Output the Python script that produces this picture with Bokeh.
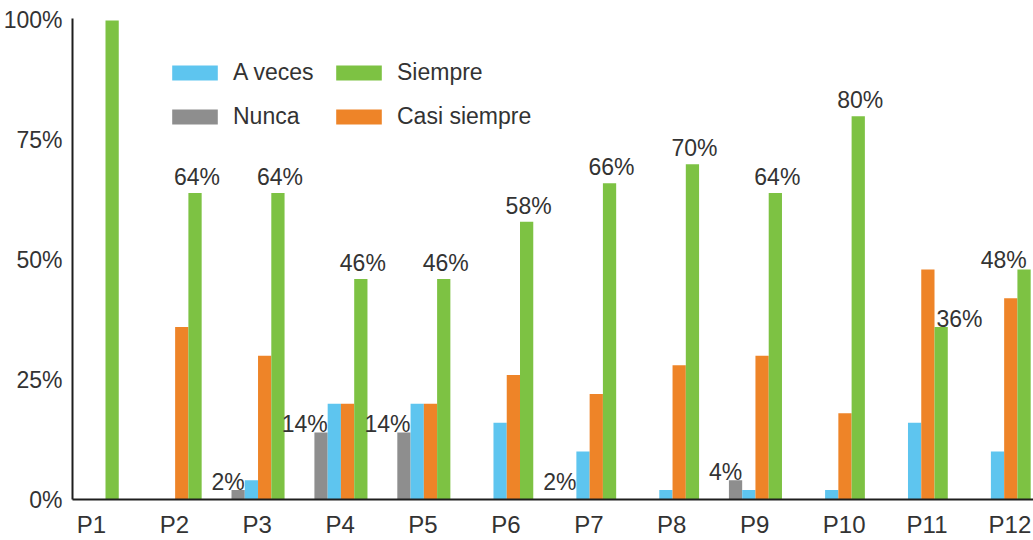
from bokeh.plotting import figure
from bokeh.models import (Range1d, FixedTicker, PrintfTickFormatter, Legend,
                          LegendItem, ColumnDataSource)
from bokeh.core.properties import value
from bokeh.embed import file_html
from bokeh.resources import INLINE

# ---------------- data ----------------
preguntas = ["P1", "P2", "P3", "P4", "P5", "P6", "P7", "P8", "P9", "P10", "P11", "P12"]
nunca = [0, 0, 2, 14, 14, 0, 0, 0, 4, 0, 0, 0]
a_veces = [0, 0, 4, 20, 20, 16, 10, 2, 2, 2, 16, 10]
casi_siempre = [0, 36, 30, 20, 20, 26, 22, 28, 30, 18, 48, 42]
siempre = [100, 64, 64, 46, 46, 58, 66, 70, 64, 80, 36, 48]
etiquetas_nunca = ["", "", "2%", "14%", "14%", "", "2%", "", "4%", "", "", ""]
valor_etiqueta_nunca = [0, 0, 2, 14, 14, 0, 2, 0, 4, 0, 0, 0]
etiquetas_siempre = ["", "64%", "64%", "46%", "46%", "58%", "66%", "70%", "64%", "80%", "36%", "48%"]
y_ticks = [0, 25, 50, 75, 100]

# ---------------- style ----------------
C_GRAY = "#8e8e8e"
C_BLUE = "#5ec5ef"
C_ORANGE = "#ee8428"
C_GREEN = "#7dc243"
TXT = "#333333"
FONT = "Liberation Sans"

# positions: each question occupies 100 x-units; bars are 16 units wide
U = 100
BW = 16
idx = [U * (i + 1) for i in range(len(preguntas))]
X_START, X_END = 60.2, 1219.4

p = figure(width=1033, height=540, output_backend="svg", toolbar_location=None,
           x_range=Range1d(X_START, X_END), y_range=Range1d(0, 100.4),
           min_border_left=72, min_border_right=0, min_border_top=18,
           min_border_bottom=32, outline_line_color=None)
p.xgrid.visible = False
p.ygrid.visible = False

def bars(vals, off, color):
    src = ColumnDataSource(dict(x=[v + off for v in idx], top=vals))
    return p.vbar(x="x", top="top", width=BW, source=src, fill_color=color,
                  line_color=None)

r_gray = bars(nunca, -40, C_GRAY)
r_blue = bars(a_veces, -24, C_BLUE)
r_orange = bars(casi_siempre, -8, C_ORANGE)
r_green = bars(siempre, 8, C_GREEN)

common = dict(text_font=value(FONT), text_font_size="23px", text_color=TXT,
              text_baseline="alphabetic")

# labels for "Nunca"
ln = [i for i in range(len(preguntas)) if etiquetas_nunca[i]]
p.text(x=[idx[i] - 32 for i in ln], y=[valor_etiqueta_nunca[i] for i in ln],
       text=[etiquetas_nunca[i] for i in ln], text_align="right", y_offset=-8,
       **common)

# labels for "Siempre"
last = len(preguntas) - 1
lab = [i for i in range(len(preguntas)) if etiquetas_siempre[i]]
above = [i for i in lab if siempre[i] >= casi_siempre[i] and i != last]
beside = [i for i in lab if siempre[i] < casi_siempre[i]]
edge = [i for i in lab if i == last and i not in beside]
p.text(x=[idx[i] + 8 for i in above], y=[siempre[i] for i in above],
       text=[etiquetas_siempre[i] for i in above], text_align="center",
       x_offset=2, y_offset=-16, **common)
p.text(x=[idx[i] for i in beside], y=[siempre[i] for i in beside],
       text=[etiquetas_siempre[i] for i in beside], text_align="left",
       x_offset=2, y_offset=-8, **common)
p.text(x=[idx[i] + 16 for i in edge], y=[siempre[i] for i in edge],
       text=[etiquetas_siempre[i] for i in edge], text_align="right",
       x_offset=-4, y_offset=-10, **common)

# axes
xt = [idx[i] - (17 if len(preguntas[i]) == 2 else 9) for i in range(len(preguntas))]
p.xaxis.ticker = FixedTicker(ticks=xt)
p.xaxis.major_label_overrides = {xt[i]: preguntas[i] for i in range(len(preguntas))}
p.yaxis.ticker = FixedTicker(ticks=y_ticks)
p.yaxis.formatter = PrintfTickFormatter(format="%d%%")
for ax in (p.xaxis, p.yaxis):
    ax.major_tick_line_color = None
    ax.minor_tick_line_color = None
    ax.axis_line_color = "#1e1e1e"
    ax.axis_line_width = 2
    ax.major_label_text_color = TXT
    ax.major_label_text_font = FONT
p.xaxis.major_label_text_font_size = "24px"
p.xaxis.major_label_standoff = 5
p.yaxis.major_label_text_font_size = "23px"
p.yaxis.major_label_standoff = 4

# legends (two columns)
def mk_legend(items, loc):
    lg = Legend(items=items, location=loc, orientation="vertical",
                glyph_width=57, glyph_height=19, label_standoff=10, spacing=17,
                padding=0, margin=0, border_line_color=None,
                background_fill_alpha=0, label_text_font=FONT,
                label_text_font_size="23px", label_text_color=TXT)
    p.add_layout(lg)

mk_legend([LegendItem(label="A veces", renderers=[r_blue]),
           LegendItem(label="Nunca", renderers=[r_gray])], (94, 369))
mk_legend([LegendItem(label="Siempre", renderers=[r_green]),
           LegendItem(label="Casi siempre", renderers=[r_orange])], (258, 369))

open("out.html", "w").write(file_html(p, INLINE))
